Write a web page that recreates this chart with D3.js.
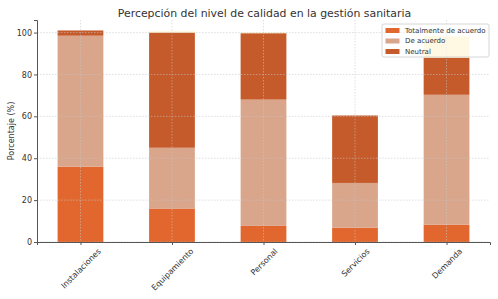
<!DOCTYPE html>
<html lang="es">
<head>
<meta charset="UTF-8" />
<title>Percepción del nivel de calidad</title>
<script src="https://cdn.jsdelivr.net/npm/d3@7/dist/d3.min.js"></script>
<style>
  body { margin: 0; background: #fff; }
  text { font-family: "DejaVu Sans", sans-serif; fill: #333; }
</style>
</head>
<body>
<svg id="vis" width="498" height="299"></svg>
<script>
// Datos
var categorias = ["Instalaciones", "Equipamiento", "Personal", "Servicios", "Demanda"];
var totalmente = [36, 16, 7.7, 6.8, 8.3];
var deAcuerdo = [62.5, 29, 60.3, 21.4, 62];
var neutral = [2.5, 55, 31.7, 32.2, 17.7];
var otro = [0, 0.5, 0.3, 0, 10.2];
var yTicks = [0, 20, 40, 60, 80, 100];

var series = [
  { nombre: "Totalmente de acuerdo", valores: totalmente, color: "#e2672f", leyenda: true },
  { nombre: "De acuerdo", valores: deAcuerdo, color: "#d9a58b", leyenda: true },
  { nombre: "Neutral", valores: neutral, color: "#c55a2b", leyenda: true },
  { nombre: "Otro", valores: otro, color: "#fff1c0", leyenda: false }
];

var svg = d3.select("#vis");
var margen = { izq: 37, der: 490, arriba: 20, abajo: 242 };

// Escalas
var x = d3.scaleLinear().domain([-0.475, categorias.length - 0.525]).range([margen.izq, margen.der]);
var y = d3.scaleLinear().domain([0, 106]).range([margen.abajo, margen.arriba]);
var anchoBarra = x(0.25) - x(-0.25);

// Barras apiladas
var base = categorias.map(function() { return 0; });
series.forEach(function(s) {
  svg.append("g").selectAll("rect")
    .data(s.valores)
    .enter().append("rect")
    .attr("x", function(d, i) { return x(i) - anchoBarra / 2; })
    .attr("y", function(d, i) { return y(base[i] + d); })
    .attr("width", anchoBarra)
    .attr("height", function(d, i) { return y(base[i]) - y(base[i] + d); })
    .attr("fill", s.color);
  s.valores.forEach(function(v, i) { base[i] += v; });
});

// Rejilla
var grid = svg.append("g").attr("stroke", "#c8c8c8").attr("stroke-dasharray", "1.5,1.5").attr("stroke-width", 0.8).attr("opacity", 0.7);
yTicks.forEach(function(t) {
  grid.append("line").attr("x1", margen.izq).attr("x2", margen.der).attr("y1", y(t)).attr("y2", y(t));
});
categorias.forEach(function(c, i) {
  grid.append("line").attr("x1", x(i)).attr("x2", x(i)).attr("y1", margen.arriba).attr("y2", margen.abajo);
});

// Ejes
var ejeY = svg.append("g")
  .attr("transform", "translate(" + margen.izq + ",0)")
  .call(d3.axisLeft(y).tickValues(yTicks).tickSize(3).tickPadding(2));
var ejeX = svg.append("g")
  .attr("transform", "translate(0," + margen.abajo + ")")
  .call(d3.axisBottom(x).tickValues(d3.range(categorias.length))
    .tickFormat(function(i) { return categorias[i]; }).tickSize(3).tickPadding(3));

[ejeY, ejeX].forEach(function(g) {
  g.select(".domain").attr("stroke", "#555").attr("stroke-width", 1);
  g.selectAll(".tick line").attr("stroke", "#555");
  g.selectAll("text").style("font-size", "8px").attr("fill", "#333");
});
// Etiquetas rotadas 45°, centradas bajo cada marca
ejeX.selectAll(".tick text").each(function() {
  var t = d3.select(this);
  var largo = this.getComputedTextLength();
  var desplaz = 5 + (largo + 8) * Math.SQRT1_2 / 2;
  t.attr("text-anchor", "middle")
    .attr("y", 0)
    .attr("dy", "0.35em")
    .attr("transform", "translate(0," + desplaz + ") rotate(-45)");
});

// Título y etiqueta
svg.append("text")
  .attr("x", (margen.izq + margen.der) / 2 + 1).attr("y", 13)
  .attr("text-anchor", "middle")
  .attr("dy", "0.35em")
  .style("font-size", "10.9px")
  .text("Percepción del nivel de calidad en la gestión sanitaria");

svg.append("text")
  .attr("transform", "translate(11," + ((margen.arriba + margen.abajo) / 2) + ") rotate(-90)")
  .attr("text-anchor", "middle")
  .attr("dy", "0.35em")
  .style("font-size", "8px")
  .text("Porcentaje (%)");

// Leyenda
var leyenda = svg.append("g").attr("transform", "translate(382,24)");
leyenda.append("rect")
  .attr("width", 107).attr("height", 33)
  .attr("fill", "#fff").attr("fill-opacity", 0.55)
  .attr("stroke", "#ccc").attr("stroke-width", 0.8).attr("rx", 2);
series.filter(function(s) { return s.leyenda; }).forEach(function(s, i) {
  leyenda.append("rect")
    .attr("x", 3.5).attr("y", 4 + i * 10.5)
    .attr("width", 14).attr("height", 5)
    .attr("fill", s.color);
  leyenda.append("text")
    .attr("x", 23).attr("y", 6.5 + i * 10.5)
    .attr("dy", "0.35em")
    .style("font-size", "7px")
    .text(s.nombre);
});
</script>
</body>
</html>
